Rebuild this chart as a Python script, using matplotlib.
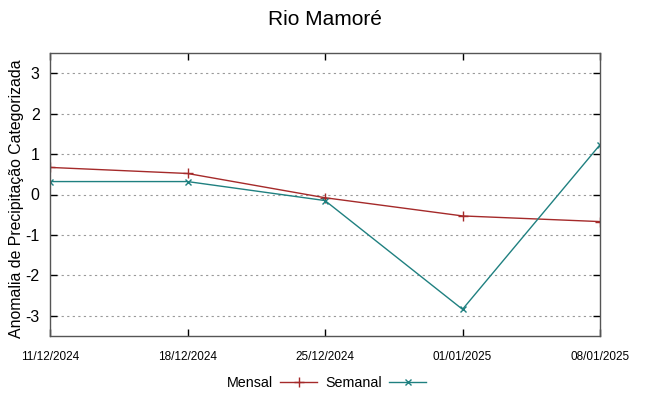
import matplotlib.pyplot as plt
import numpy as np

dates = ["11/12/2024", "18/12/2024", "25/12/2024", "01/01/2025", "08/01/2025"]
mensal = [0.67, 0.52, -0.08, -0.53, -0.67]
semanal = [0.32, 0.32, -0.15, -2.84, 1.23]

plt.rcParams['font.family'] = 'Liberation Sans'
plt.rcParams['axes.unicode_minus'] = False

fig = plt.figure(figsize=(6.49, 3.96), dpi=100)
ax = fig.add_axes([50 / 649, 1 - 336 / 396, 550 / 649, 283 / 396])

x = np.arange(len(dates))
ax.plot(x, mensal, color='#a52a2a', lw=1, marker='+', ms=7, mew=1, label='Mensal')
ax.plot(x, semanal, color='#1f8080', lw=1, marker='x', ms=5, mew=1, label='Semanal')

ax.set_xlim(0, len(dates) - 1)
ax.set_ylim(-3.5, 3.5)
ax.set_xticks(x)
ax.set_xticklabels(dates, fontsize=8.5)
ax.set_yticks(np.arange(-3, 4))
ax.tick_params(axis='y', labelsize=11.5, direction='in', right=True, length=5, width=1, pad=7.5)
ax.tick_params(axis='x', direction='in', top=True, length=5, width=1, pad=11)
ax.yaxis.grid(True, linestyle=(0, (2, 3)), color='#999999', lw=0.8)
for s in ax.spines.values():
    s.set_color('#555555')
    s.set_linewidth(1)

ax.set_ylabel("Anomalia de Precipitação Categorizada", fontsize=11.4)
ax.yaxis.set_label_coords(-0.047, 0.485)
fig.suptitle("Rio Mamoré", fontsize=15, y=0.975)

ax.legend(loc='center', bbox_to_anchor=(0.503, -0.165), ncol=2, frameon=False,
          markerfirst=False, fontsize=10.3, handlelength=2.6, columnspacing=0.55,
          handletextpad=0.5)

plt.savefig("out.png", dpi=100)
